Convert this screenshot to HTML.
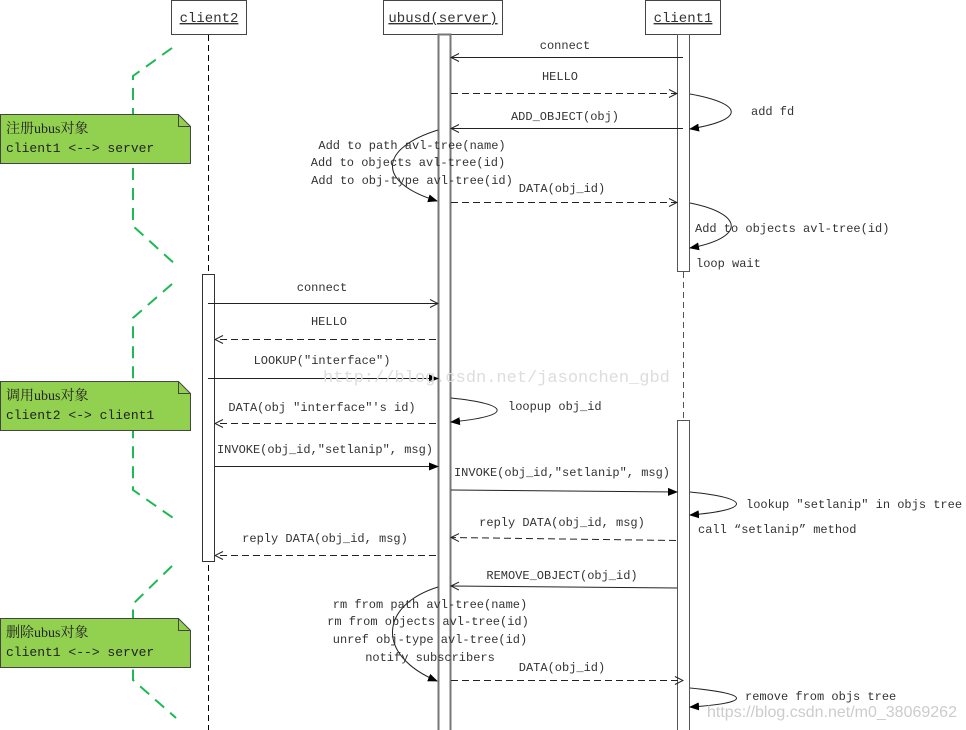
<!DOCTYPE html>
<html><head><meta charset="utf-8"><style>
html,body{margin:0;padding:0;background:#fff;}
svg{display:block;}
text{font-family:"Liberation Mono","Noto Sans CJK SC",monospace;font-size:12px;fill:#333;}
.c{text-anchor:middle;}
.n{font-size:13px;fill:#222;}
.z{font-family:'Liberation Serif','Noto Serif CJK SC',serif;font-size:14px;fill:#222;}
</style></head><body>
<svg width="966" height="730" viewBox="0 0 966 730" xmlns="http://www.w3.org/2000/svg">
<defs>
<marker id="o" markerWidth="10" markerHeight="10" refX="9" refY="5" orient="auto" markerUnits="userSpaceOnUse"><path d="M1,1 L9,5 L1,9" fill="none" stroke="#222" stroke-width="1"/></marker>
<marker id="f" markerWidth="10" markerHeight="10" refX="9" refY="5" orient="auto" markerUnits="userSpaceOnUse"><path d="M0,1 L10,5 L0,9 Z" fill="#000"/></marker>
</defs>
<rect x="171.5" y="0.5" width="75" height="34" fill="#fff" stroke="#444"/>
<text x="209" y="22" class="c" style="font-size:14px;text-decoration:underline">client2</text>
<rect x="383.5" y="0.5" width="119" height="34" fill="#fff" stroke="#444"/>
<text x="443" y="22" class="c" style="font-size:14px;text-decoration:underline">ubusd(server)</text>
<rect x="645.5" y="0.5" width="75" height="34" fill="#fff" stroke="#444"/>
<text x="683" y="22" class="c" style="font-size:14px;text-decoration:underline">client1</text>
<line x1="208.5" y1="35" x2="208.5" y2="730" stroke="#000" stroke-dasharray="6,4"/>
<line x1="683.5" y1="272" x2="683.5" y2="420" stroke="#555" stroke-dasharray="6,4"/>
<g fill="none" stroke="#1db954" stroke-width="2" stroke-dasharray="12,8">
<polyline points="172,48 133,76 133,226 176,265"/>
<polyline points="172,284 133,318 133,490 176,520"/>
<polyline points="172,566 133,604 133,680 176,718"/>
</g>
<rect x="438.5" y="34.5" width="12" height="700" fill="#fff" stroke="#777" stroke-width="2"/>
<rect x="677.5" y="34.5" width="12" height="237" fill="#fff" stroke="#555"/>
<rect x="202.5" y="274.5" width="12" height="287" fill="#fff" stroke="#333"/>
<rect x="677.5" y="420.5" width="12" height="320" fill="#fff" stroke="#555"/>
<g stroke="#444" fill="#92d050">
<path d="M0.5,114.5 H178.5 L190.5,126.5 V163.5 H0.5 Z"/>
<path d="M178.5,114.5 V126.5 H190.5" fill="none"/>
<path d="M0.5,381.5 H178.5 L190.5,393.5 V430.5 H0.5 Z"/>
<path d="M178.5,381.5 V393.5 H190.5" fill="none"/>
<path d="M0.5,618.5 H178.5 L190.5,630.5 V667.5 H0.5 Z"/>
<path d="M178.5,618.5 V630.5 H190.5" fill="none"/>
</g>
<text x="6" y="133" class="z">注册ubus对象</text>
<text x="6" y="152" class="n">client1 &lt;--&gt; server</text>
<text x="6" y="400" class="z">调用ubus对象</text>
<text x="6" y="419" class="n">client2 &lt;-&gt; client1</text>
<text x="6" y="637" class="z">删除ubus对象</text>
<text x="6" y="656" class="n">client1 &lt;--&gt; server</text>
<g stroke="#222" fill="none">
<line x1="683" y1="57.5" x2="451" y2="57.5" marker-end="url(#o)"/>
<line x1="451" y1="93.5" x2="677" y2="93.5" stroke-dasharray="7,4" marker-end="url(#o)"/>
<path d="M690,94 C745,104 745,120 690,129" marker-end="url(#f)"/>
<line x1="683" y1="128.5" x2="451" y2="128.5" marker-end="url(#o)"/>
<path d="M438,130 C380,148 375,182 437,201" marker-end="url(#f)"/>
<line x1="451" y1="202.5" x2="677" y2="202.5" stroke-dasharray="7,4" marker-end="url(#o)"/>
<path d="M690,203 C745,214 745,238 690,248" marker-end="url(#f)"/>
<line x1="208" y1="303.5" x2="438" y2="303.5" marker-end="url(#o)"/>
<line x1="436" y1="339.5" x2="215" y2="339.5" stroke-dasharray="7,4" marker-end="url(#o)"/>
<line x1="208" y1="378.5" x2="438" y2="378.5" marker-end="url(#f)"/>
<path d="M451,398 C510,404 515,416 451,422" marker-end="url(#f)"/>
<line x1="436" y1="423.5" x2="215" y2="423.5" stroke-dasharray="7,4" marker-end="url(#o)"/>
<line x1="215" y1="466.5" x2="438" y2="466.5" marker-end="url(#f)"/>
<line x1="451" y1="490" x2="677" y2="492" marker-end="url(#f)"/>
<path d="M690,492 C752,498 752,510 690,515" marker-end="url(#f)"/>
<line x1="676" y1="540.5" x2="451" y2="537.5" stroke-dasharray="7,4" marker-end="url(#o)"/>
<line x1="436" y1="555.5" x2="215" y2="555.5" stroke-dasharray="7,4" marker-end="url(#o)"/>
<line x1="677" y1="588" x2="451" y2="586" marker-end="url(#o)"/>
<path d="M438,587 C380,605 375,655 437,681" marker-end="url(#f)"/>
<line x1="451" y1="680.5" x2="683" y2="680.5" stroke-dasharray="7,4" marker-end="url(#o)"/>
<path d="M690,688 C752,694 752,703 690,707" marker-end="url(#f)"/>
</g>
<text x="323" y="382" style="font-size:17px;fill:#ddd">http://blog.csdn.net/jasonchen_gbd</text>
<text x="565" y="49" class="c">connect</text>
<text x="560" y="80" class="c">HELLO</text>
<text x="751" y="115">add fd</text>
<text x="565" y="120" class="c">ADD_OBJECT(obj)</text>
<text x="412" y="149" class="c">Add to path avl-tree(name)</text>
<text x="408" y="166" class="c">Add to objects avl-tree(id)</text>
<text x="412" y="184" class="c">Add to obj-type avl-tree(id)</text>
<text x="562" y="192" class="c">DATA(obj_id)</text>
<text x="695" y="232">Add to objects avl-tree(id)</text>
<text x="696" y="267">loop wait</text>
<text x="322" y="291" class="c">connect</text>
<text x="329" y="325" class="c">HELLO</text>
<text x="322" y="364" class="c">LOOKUP("interface")</text>
<text x="508" y="410">loopup obj_id</text>
<text x="322" y="411" class="c">DATA(obj "interface"'s id)</text>
<text x="325" y="453" class="c">INVOKE(obj_id,"setlanip", msg)</text>
<text x="562" y="476" class="c">INVOKE(obj_id,"setlanip", msg)</text>
<text x="746" y="508">lookup "setlanip" in objs tree</text>
<text x="698" y="533">call  “setlanip”  method</text>
<text x="562" y="526" class="c">reply DATA(obj_id, msg)</text>
<text x="325" y="542" class="c">reply DATA(obj_id, msg)</text>
<text x="562" y="579" class="c">REMOVE_OBJECT(obj_id)</text>
<text x="430" y="608" class="c">rm from path avl-tree(name)</text>
<text x="428" y="625" class="c">rm from objects avl-tree(id)</text>
<text x="430" y="643" class="c">unref obj-type avl-tree(id)</text>
<text x="430" y="661" class="c">notify subscribers</text>
<text x="562" y="671" class="c">DATA(obj_id)</text>
<text x="745" y="700">remove from objs tree</text>
<text x="707" y="717" style="font-family:'Liberation Sans',sans-serif;font-size:16px;fill:#ccc">https://blog.csdn.net/m0_38069262</text>
</svg>
</body></html>
